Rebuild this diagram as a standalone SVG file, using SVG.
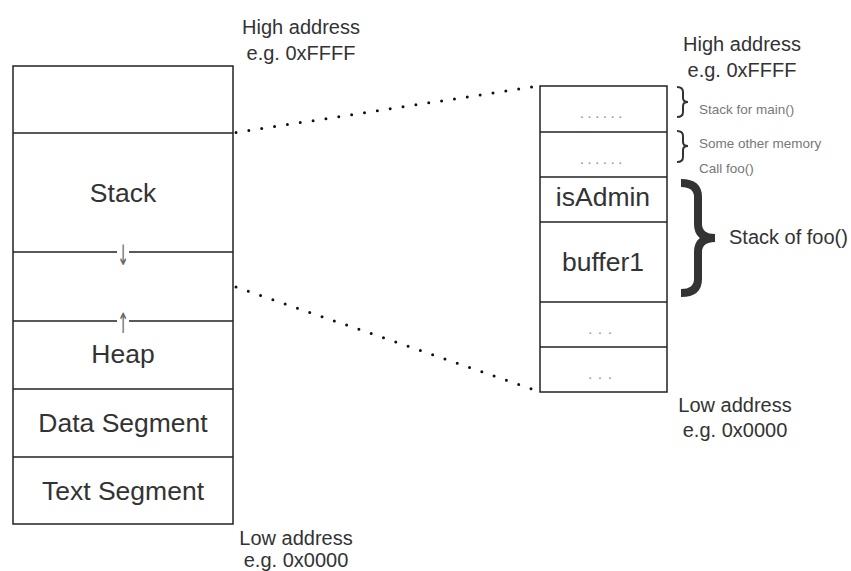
<svg xmlns="http://www.w3.org/2000/svg" width="851" height="571" viewBox="0 0 851 571">
<style>
  .box { fill: #ffffff; stroke: #222222; stroke-width: 1.5; }
  .div { stroke: #222222; stroke-width: 1.5; }
  .big { font-family: "Liberation Sans", Arial, sans-serif; font-size: 26.5px; fill: #333333; text-anchor: middle; }
  .lbl { font-family: "Liberation Sans", Arial, sans-serif; font-size: 20px; fill: #333333; text-anchor: middle; }
  .lbl-start { font-family: "Liberation Sans", Arial, sans-serif; font-size: 20px; fill: #333333; text-anchor: start; }
  .sm { font-family: "Liberation Sans", Arial, sans-serif; font-size: 13.5px; fill: #777777; }
  .dots { font-family: "Liberation Sans", Arial, sans-serif; font-size: 14px; fill: #888888; text-anchor: middle; }
  .arr { font-family: "DejaVu Sans", sans-serif; font-size: 28px; fill: #666666; text-anchor: middle; }
  .dotted { fill: none; stroke: #111111; stroke-width: 3; stroke-linecap: round; stroke-dasharray: 0 13; }
  .brace { fill: none; stroke: #333333; }
</style>

<g id="connectors">
  <path class="dotted" d="M 236 132.5 L 532 87"/>
  <path class="dotted" d="M 236 287 L 532 389"/>
</g>

<g id="memory-layout">
  <rect class="box" x="13" y="66" width="220" height="458"/>
  <line class="div" x1="13" y1="133" x2="233" y2="133"/>
  <line class="div" x1="13" y1="252" x2="117" y2="252"/>
  <line class="div" x1="129" y1="252" x2="233" y2="252"/>
  <line class="div" x1="13" y1="321" x2="117" y2="321"/>
  <line class="div" x1="129" y1="321" x2="233" y2="321"/>
  <line class="div" x1="13" y1="389" x2="233" y2="389"/>
  <line class="div" x1="13" y1="457" x2="233" y2="457"/>
</g>
<g id="stack"><text class="big" x="123" y="202">Stack</text></g>
<g id="arrow-down"><text class="arr" transform="translate(123 265) scale(0.5 1)" x="0" y="0">↓</text></g>
<g id="arrow-up"><text class="arr" transform="translate(123 333) scale(0.5 1)" x="0" y="0">↑</text></g>
<g id="heap"><text class="big" x="123" y="363">Heap</text></g>
<g id="data-segment"><text class="big" x="123" y="432">Data Segment</text></g>
<g id="text-segment"><text class="big" x="123" y="500">Text Segment</text></g>

<g id="high-address-left">
  <text class="lbl" x="301" y="34">High address</text>
  <text class="lbl" x="301" y="60">e.g. 0xFFFF</text>
</g>
<g id="low-address-left">
  <text class="lbl" x="296" y="545">Low address</text>
  <text class="lbl" x="296" y="567">e.g. 0x0000</text>
</g>

<g id="stack-detail">
  <rect class="box" x="540" y="86" width="127" height="306"/>
  <line class="div" x1="540" y1="132" x2="667" y2="132"/>
  <line class="div" x1="540" y1="177" x2="667" y2="177"/>
  <line class="div" x1="540" y1="222" x2="667" y2="222"/>
  <line class="div" x1="540" y1="302" x2="667" y2="302"/>
  <line class="div" x1="540" y1="347" x2="667" y2="347"/>
</g>
<g id="row-main"><text class="dots" x="603" y="118" letter-spacing="3.8">......</text></g>
<g id="row-other"><text class="dots" x="603" y="164" letter-spacing="3.8">......</text></g>
<g id="row-isadmin"><text class="big" x="603" y="206">isAdmin</text></g>
<g id="row-buffer1"><text class="big" x="603" y="271">buffer1</text></g>
<g id="row-5"><text class="dots" x="603" y="334" letter-spacing="6">...</text></g>
<g id="row-6"><text class="dots" x="603" y="379" letter-spacing="6">...</text></g>

<g id="high-address-right">
  <text class="lbl" x="742" y="51">High address</text>
  <text class="lbl" x="742" y="77">e.g. 0xFFFF</text>
</g>
<g id="low-address-right">
  <text class="lbl" x="735" y="412">Low address</text>
  <text class="lbl" x="735" y="437">e.g. 0x0000</text>
</g>

<g id="brace-main">
  <path class="brace" stroke-width="2" d="M 677 87 Q 683 87 683 92 L 683 98 Q 683 102 688 102 Q 683 102 683 106 L 683 112 Q 683 117 677 117"/>
  <text class="sm" x="699" y="114">Stack for main()</text>
</g>
<g id="brace-other">
  <path class="brace" stroke-width="2" d="M 677 131 Q 683 131 683 136 L 683 142 Q 683 146 688 146 Q 683 146 683 150 L 683 157 Q 683 162 677 162"/>
  <text class="sm" x="699" y="148">Some other memory</text>
  <text class="sm" x="699" y="173">Call foo()</text>
</g>
<g id="brace-foo">
  <path class="brace" stroke-width="8" d="M 681 183 Q 698 183 698 197 L 698 224 Q 698 238 715 238 Q 698 238 698 252 L 698 279 Q 698 293 681 293"/>
  <text class="lbl-start" x="729" y="244">Stack of foo()</text>
</g>
</svg>
